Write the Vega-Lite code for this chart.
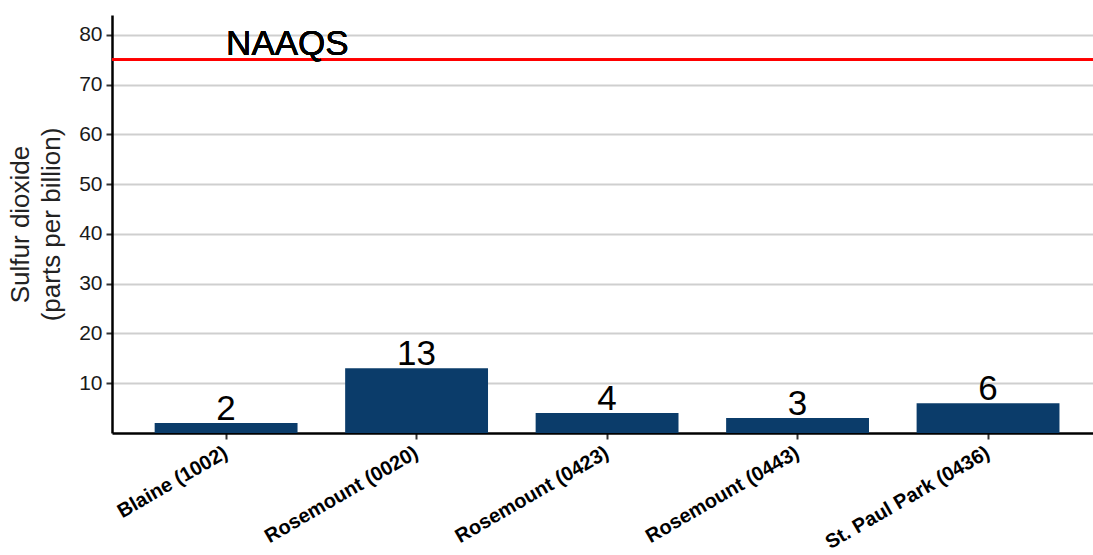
{
  "$schema": "https://vega.github.io/schema/vega-lite/v6.json",
  "width": 981,
  "height": 418,
  "autosize": "none",
  "padding": {"left": 112, "top": 15, "right": 0, "bottom": 122},
  "background": "white",
  "config": {
    "view": {"stroke": null},
    "font": "Liberation Sans",
    "axisX": {
      "labelAngle": -30,
      "labelAlign": "right",
      "labelBaseline": "middle",
      "labelFont": "Liberation Sans",
      "labelFontWeight": "bold",
      "labelFontSize": 20,
      "labelColor": "#000000",
      "labelPadding": 12,
      "labelOverlap": false,
      "labelLimit": 400,
      "domainColor": "#000000",
      "domainWidth": 2.5,
      "tickColor": "#333333",
      "tickWidth": 2,
      "tickSize": 6,
      "grid": false
    },
    "axisY": {
      "titleFont": "Liberation Sans",
      "titleFontSize": 26,
      "titleFontWeight": "normal",
      "titleColor": "#222222",
      "titleLineHeight": 31,
      "titlePadding": 14,
      "labelFont": "Liberation Sans",
      "labelFontSize": 21,
      "labelColor": "#1a1a1a",
      "labelPadding": 4,
      "domainColor": "#000000",
      "domainWidth": 2.5,
      "tickColor": "#333333",
      "tickWidth": 2,
      "tickSize": 6,
      "grid": true,
      "gridColor": "#cfcfcf",
      "gridWidth": 2
    }
  },
  "data": {
    "values": [
      {"site": "Blaine (1002)", "so2": 2},
      {"site": "Rosemount (0020)", "so2": 13},
      {"site": "Rosemount (0423)", "so2": 4},
      {"site": "Rosemount (0443)", "so2": 3},
      {"site": "St. Paul Park (0436)", "so2": 6}
    ]
  },
  "encoding": {
    "x": {
      "field": "site",
      "type": "nominal",
      "sort": null,
      "scale": {"paddingInner": 0.25, "paddingOuter": 0.2, "align": 0.56},
      "axis": {"title": null}
    },
    "y": {
      "field": "so2",
      "type": "quantitative",
      "scale": {"domain": [0, 84], "nice": false},
      "axis": {
        "title": ["Sulfur dioxide", "(parts per billion)"],
        "values": [10, 20, 30, 40, 50, 60, 70, 80],
        "labelFontSize": 21,
        "titleFontSize": 26
      }
    }
  },
  "layer": [
    {
      "mark": {"type": "bar", "color": "#0b3c6a"}
    },
    {
      "mark": {"type": "text", "fontSize": 35, "baseline": "alphabetic", "dy": -3, "color": "#000000", "font": "Liberation Sans"},
      "encoding": {"text": {"field": "so2", "type": "quantitative"}}
    },
    {
      "mark": {"type": "rule", "color": "#ff0000", "strokeWidth": 2.5},
      "encoding": {"y": {"datum": 75}, "x": null}
    },
    {
      "mark": {"type": "text", "text": "NAAQS", "fontSize": 35, "align": "left", "baseline": "alphabetic", "dy": -5, "color": "#000000", "font": "Liberation Sans"},
      "encoding": {"y": {"datum": 75}, "x": {"datum": "Blaine (1002)"}}
    }
  ]
}
